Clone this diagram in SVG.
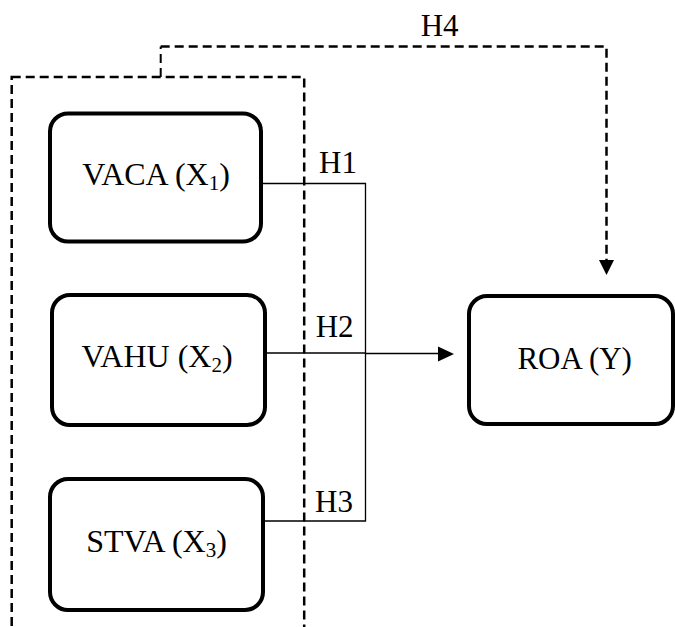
<svg xmlns="http://www.w3.org/2000/svg" width="675" height="627" viewBox="0 0 675 627">
<style>
.node{fill:#fff;stroke:#000;stroke-width:4}
.t{font-family:"Liberation Serif","Times New Roman",serif;font-size:32px;fill:#000}
.lab{font-family:"Liberation Serif","Times New Roman",serif;font-size:31px;fill:#000}
.thin{fill:none;stroke:#000;stroke-width:1.3}
.dash{fill:none;stroke:#000;stroke-width:2.5;stroke-dasharray:9 5}
</style>
<rect width="675" height="627" fill="#fff"/>
<g id="group-box">
<rect class="dash" x="11.7" y="77" width="292.5" height="570"/>
</g>
<g id="connectors">
<path class="thin" d="M263 183.5 H365.5 V521 H265"/>
<path class="thin" d="M265 353 H365.5"/>
<path fill="none" stroke="#000" stroke-width="1.6" d="M365.5 353.5 H440"/>
<polygon points="438,346.5 454,354 438,361.5" fill="#000"/>
<path fill="none" stroke="#000" stroke-width="2" stroke-dasharray="9 5" d="M160.7 77 V46.5"/>
<path class="dash" d="M160.7 46.5 H606.5 V260"/>
<polygon points="599,260 614,260 606.5,275" fill="#000"/>
<text class="lab" x="319" y="173">H1</text>
<text class="lab" x="315.7" y="337">H2</text>
<text class="lab" x="315" y="512">H3</text>
<text class="lab" x="420.7" y="36">H4</text>
</g>
<g id="vaca">
<rect class="node" x="50" y="113.5" width="211" height="128" rx="18"/>
<text class="t" x="156" y="185" text-anchor="middle">VACA (X<tspan font-size="21" dy="5">1</tspan><tspan dy="-5">)</tspan></text>
</g>
<g id="vahu">
<rect class="node" x="52" y="295" width="213" height="130" rx="18"/>
<text class="t" x="157" y="367" text-anchor="middle">VAHU (X<tspan font-size="21" dy="5">2</tspan><tspan dy="-5">)</tspan></text>
</g>
<g id="stva">
<rect class="node" x="50" y="479" width="213" height="131" rx="18"/>
<text class="t" x="156.5" y="552" text-anchor="middle">STVA (X<tspan font-size="21" dy="5">3</tspan><tspan dy="-5">)</tspan></text>
</g>
<g id="roa">
<rect class="node" x="469" y="296" width="204" height="128" rx="18"/>
<text class="lab" x="574.7" y="369" text-anchor="middle">ROA (Y)</text>
</g>
</svg>
